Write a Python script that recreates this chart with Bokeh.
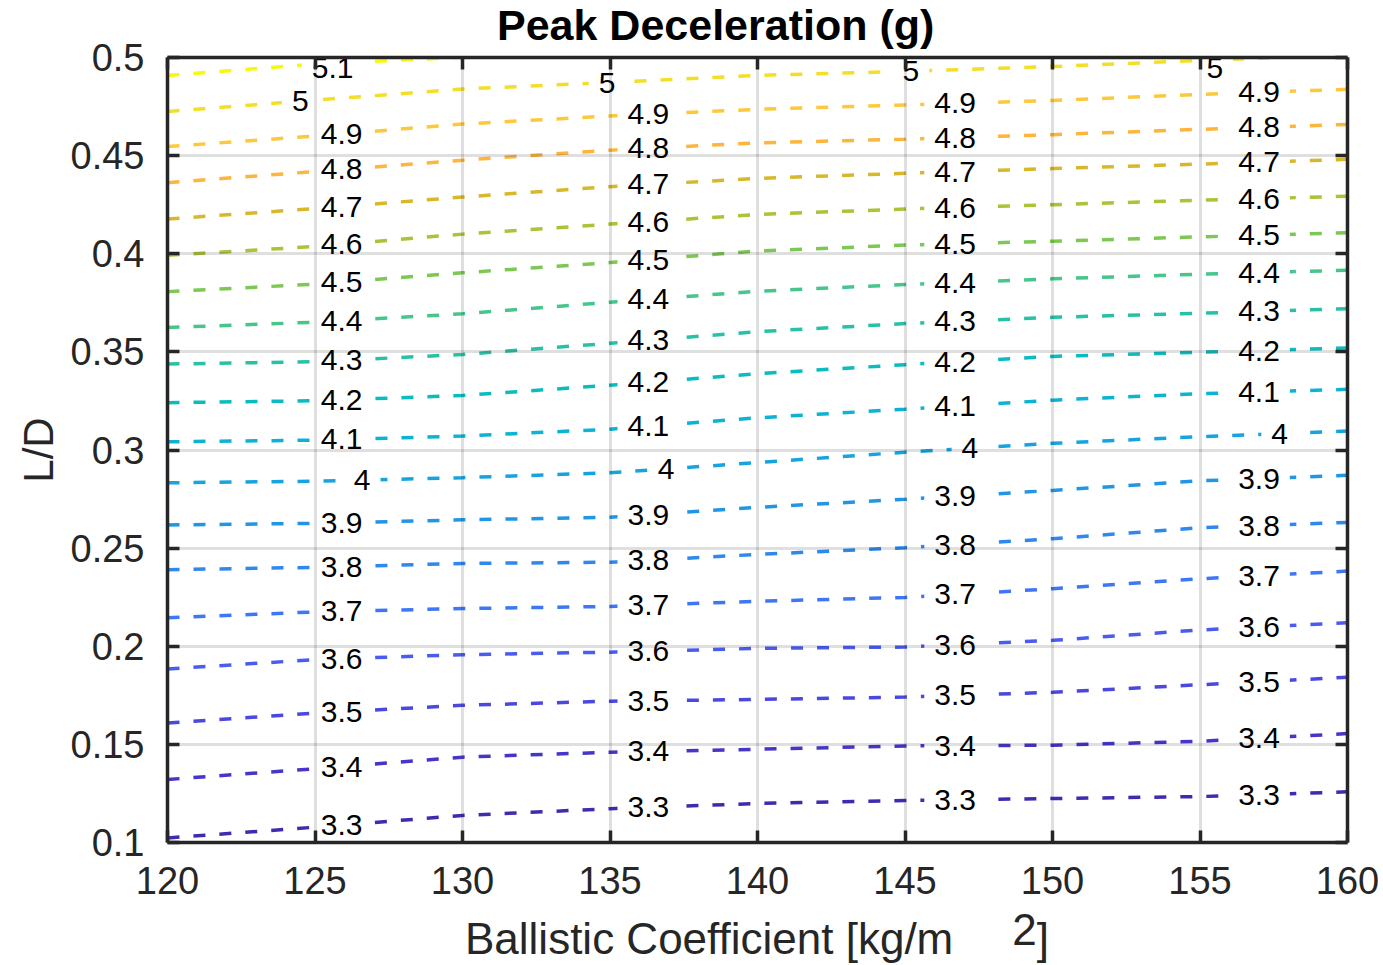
import numpy as np
from bokeh.plotting import figure
from bokeh.models import LinearAxis, FixedTicker, Range1d, Div
from bokeh.layouts import column
from bokeh.core.properties import value
from bokeh.embed import file_html
from bokeh.resources import INLINE

# ---------------- data ----------------
bc_values = [120, 125, 130, 135, 140, 145, 150, 155, 160]   # Ballistic coefficient [kg/m^2]
bc_5_1 = [120, 125, 130]

ld_3_3 = [0.1023, 0.1078, 0.1138, 0.1172, 0.1199, 0.1214, 0.1224, 0.1234, 0.1258]
ld_3_4 = [0.1321, 0.1376, 0.1435, 0.1460, 0.1475, 0.1492, 0.1496, 0.1516, 0.1555]
ld_3_5 = [0.1609, 0.1659, 0.1699, 0.1720, 0.1729, 0.1741, 0.1765, 0.1804, 0.1842]
ld_3_6 = [0.1884, 0.1932, 0.1957, 0.1970, 0.1989, 0.1996, 0.2030, 0.2083, 0.2120]
ld_3_7 = [0.2145, 0.2175, 0.2192, 0.2203, 0.2229, 0.2249, 0.2293, 0.2344, 0.2383]
ld_3_8 = [0.2390, 0.2402, 0.2422, 0.2428, 0.2468, 0.2502, 0.2548, 0.2604, 0.2631]
ld_3_9 = [0.2618, 0.2626, 0.2644, 0.2657, 0.2708, 0.2749, 0.2794, 0.2843, 0.2871]
ld_4_0 = [0.2833, 0.2841, 0.2859, 0.2884, 0.2936, 0.2989, 0.3034, 0.3068, 0.3097]
ld_4_1 = [0.3042, 0.3050, 0.3071, 0.3106, 0.3164, 0.3208, 0.3254, 0.3287, 0.3309]
ld_4_2 = [0.3241, 0.3251, 0.3278, 0.3330, 0.3389, 0.3435, 0.3477, 0.3498, 0.3520]
ld_4_3 = [0.3438, 0.3450, 0.3487, 0.3544, 0.3603, 0.3644, 0.3676, 0.3697, 0.3720]
ld_4_4 = [0.3624, 0.3651, 0.3694, 0.3753, 0.3809, 0.3843, 0.3872, 0.3896, 0.3916]
ld_4_5 = [0.3807, 0.3845, 0.3903, 0.3955, 0.4014, 0.4044, 0.4064, 0.4086, 0.4107]
ld_4_6 = [0.3992, 0.4037, 0.4100, 0.4151, 0.4200, 0.4228, 0.4250, 0.4273, 0.4293]
ld_4_7 = [0.4177, 0.4230, 0.4289, 0.4342, 0.4384, 0.4410, 0.4434, 0.4457, 0.4481]
ld_4_8 = [0.4362, 0.4419, 0.4477, 0.4528, 0.4565, 0.4584, 0.4607, 0.4634, 0.4659]
ld_4_9 = [0.4546, 0.4600, 0.4661, 0.4702, 0.4736, 0.4758, 0.4781, 0.4812, 0.4838]
ld_5_0 = [0.4725, 0.4783, 0.4839, 0.4873, 0.4909, 0.4929, 0.4954, 0.4985, 0.5013]
ld_5_1 = [0.4908, 0.4967, 0.5001]

levels = [3.3, 3.4, 3.5, 3.6, 3.7, 3.8, 3.9, 4.0, 4.1, 4.2,
          4.3, 4.4, 4.5, 4.6, 4.7, 4.8, 4.9, 5.0, 5.1]
level_labels = ["3.3", "3.4", "3.5", "3.6", "3.7", "3.8", "3.9", "4", "4.1", "4.2",
                "4.3", "4.4", "4.5", "4.6", "4.7", "4.8", "4.9", "5", "5.1"]
contour_ld = [ld_3_3, ld_3_4, ld_3_5, ld_3_6, ld_3_7, ld_3_8, ld_3_9, ld_4_0, ld_4_1,
              ld_4_2, ld_4_3, ld_4_4, ld_4_5, ld_4_6, ld_4_7, ld_4_8, ld_4_9, ld_5_0, ld_5_1]
contour_bc = [bc_values] * 18 + [bc_5_1]

x_ticks = [120, 125, 130, 135, 140, 145, 150, 155, 160]
x_tick_labels = ["120", "125", "130", "135", "140", "145", "150", "155", "160"]
y_ticks = [0.1, 0.15, 0.2, 0.25, 0.3, 0.35, 0.4, 0.45, 0.5]
y_tick_labels = ["0.1", "0.15", "0.2", "0.25", "0.3", "0.35", "0.4", "0.45", "0.5"]

title_text = "Peak Deceleration (g)"
ylabel_text = "L/D"
xlabel_main = "Ballistic Coefficient [kg/m"
xlabel_sup = "2"
xlabel_end = "]"

# label placement along each contour (x positions of the in-line labels)
label_cols_default = [125.9, 136.3, 146.7, 157.0]
label_cols_special = {"4": [126.6, 136.9, 147.2, 157.7],
                      "5": [124.5, 134.9, 145.2, 155.5],
                      "5.1": [125.6]}
label_y_max = 0.4944   # keep in-line labels fully inside the axes box

# ---------------- styles ----------------
colors = ["#3e2bae", "#4535c8", "#4a48df", "#4a5cf0", "#3d77f6", "#2e88ee", "#2196e4",
          "#17a4dd", "#0cb3d3", "#0bbcbf", "#27c2a6", "#47c68b", "#7dc853", "#adc236",
          "#d8b82b", "#fdb53c", "#fdc93a", "#f3df27", "#f8f710"]
FONT = "Liberation Sans"
AX = "#262626"

p = figure(frame_width=1180, frame_height=785, title=None,
           min_border_left=167, min_border_right=36, min_border_top=27, min_border_bottom=63,
           x_range=Range1d(120, 160), y_range=Range1d(0.1, 0.5),
           output_backend="svg", toolbar_location=None, margin=0)
p.outline_line_color = None
p.background_fill_color = "white"
p.border_fill_color = "white"

# grid
for g in (p.xgrid, p.ygrid):
    g.grid_line_color = AX
    g.grid_line_alpha = 0.15
    g.grid_line_width = 3
    g.level = "overlay"
p.xgrid.ticker = FixedTicker(ticks=x_ticks)
p.ygrid.ticker = FixedTicker(ticks=y_ticks)

# contour lines
for xs, ys, col in zip(contour_bc, contour_ld, colors):
    p.line(xs, ys, line_color=col, line_width=3.5, line_dash="12 14")

# contour labels
lab_x, lab_y, lab_t = [], [], []
for lvl_txt, xs, ys in zip(level_labels, contour_bc, contour_ld):
    cols = label_cols_special.get(lvl_txt, label_cols_default)
    for cx in cols:
        lab_x.append(cx)
        lab_y.append(min(float(np.interp(cx, xs, ys)), label_y_max))
        lab_t.append(lvl_txt)
p.text(x=lab_x, y=lab_y, text=lab_t, text_font=value(FONT), text_font_size="30px",
       text_color="black", text_align="center", text_baseline="middle",
       background_fill_color="white", padding=(10, 0))

# axes
def style_axis(ax, ticks, labels=None, show=True):
    ax.ticker = FixedTicker(ticks=ticks)
    ax.axis_line_color = AX
    ax.axis_line_width = 3.5
    ax.major_tick_line_color = AX
    ax.major_tick_line_width = 3.5
    ax.major_tick_in = 12
    ax.major_tick_out = 0
    ax.minor_tick_line_color = None
    if show:
        ax.major_label_overrides = {t: l for t, l in zip(ticks, labels)}
        ax.major_label_text_font = FONT
        ax.major_label_text_font_size = "38px"
        ax.major_label_text_color = AX
    else:
        ax.major_label_text_font_size = "0px"
        ax.major_label_text_color = None
        ax.major_label_standoff = 0

style_axis(p.xaxis[0], x_ticks, x_tick_labels)
style_axis(p.yaxis[0], y_ticks, y_tick_labels)
p.xaxis[0].major_label_standoff = 24
p.yaxis[0].major_label_standoff = 23

yax = p.yaxis[0]
yax.axis_label = ylabel_text
yax.axis_label_text_font = FONT
yax.axis_label_text_font_size = "42px"
yax.axis_label_text_font_style = "normal"
yax.axis_label_text_color = AX
yax.axis_label_standoff = 6

top_ax = LinearAxis()
right_ax = LinearAxis()
style_axis(top_ax, x_ticks, show=False)
style_axis(right_ax, y_ticks, show=False)
p.add_layout(top_ax, "above")
p.add_layout(right_ax, "right")

# title (HTML text above the plot, drawn over the plot's top margin)
title_html = (
    '<div style="padding-left:497px;padding-top:1px;font-family:\'Liberation Sans\';'
    'font-size:43px;font-weight:bold;line-height:1.15;white-space:nowrap;color:#000000">'
    f'{title_text}</div>'
)
title_div = Div(text=title_html, width=1383, height=30, margin=0,
                styles={"overflow": "visible", "position": "relative", "z-index": "10"})

# x-axis label with raised exponent (HTML text below the plot)
xlabel_html = (
    '<div style="padding-left:465px;padding-top:12px;font-family:\'Liberation Sans\';'
    'font-size:44px;line-height:1;white-space:nowrap;color:#262626">'
    f'{xlabel_main}<span style="position:relative;top:-9px;margin-left:59px">{xlabel_sup}</span>'
    f'{xlabel_end}</div>'
)
xlabel_div = Div(text=xlabel_html, width=1383, height=60, margin=0,
                 styles={"overflow": "hidden"})

layout = column(title_div, p, xlabel_div, spacing=0)
open("out.html", "w").write(file_html(layout, INLINE))
